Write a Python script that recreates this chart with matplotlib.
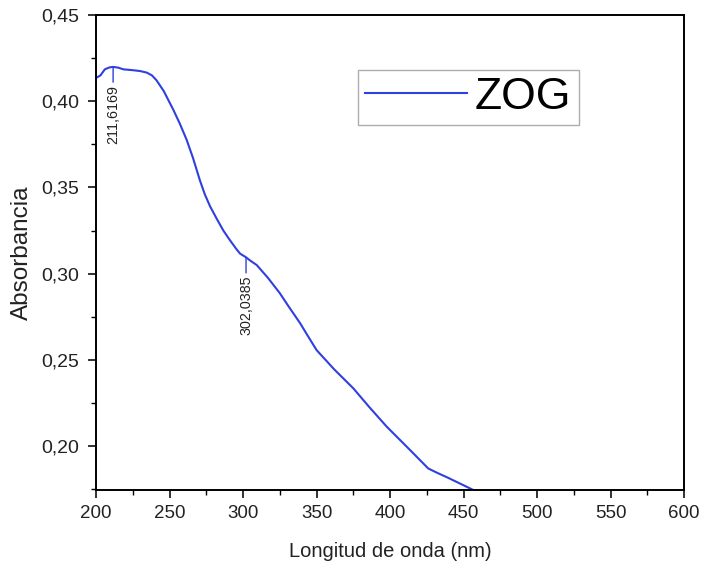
import matplotlib
matplotlib.use("Agg")
import matplotlib.pyplot as plt
from matplotlib.ticker import MultipleLocator, FuncFormatter

plt.rcParams['font.family'] = ['Liberation Sans', 'DejaVu Sans']

# UV-Vis spectrum of ZOG
wavelength = [200.0, 203.0, 206.0, 209.0, 211.6, 215.0, 218.6, 225.0, 230.0, 234.5,
              238.0, 241.0, 246.0, 252.6, 257.0, 261.7, 266.0, 270.7, 274.0, 277.6,
              282.0, 286.6, 291.0, 295.7, 298.0, 302.0, 305.0, 309.3, 317.0, 325.0,
              331.0, 338.8, 344.0, 350.0, 362.0, 375.0, 386.0, 397.8, 411.4, 426.0,
              432.0, 438.5, 447.0, 456.7]
absorbance = [0.4135, 0.4150, 0.4185, 0.4196, 0.4199, 0.4195, 0.4185, 0.4180, 0.4175, 0.4166,
              0.4150, 0.4123, 0.4060, 0.3950, 0.3870, 0.3775, 0.3670, 0.3540, 0.3460, 0.3390,
              0.3320, 0.3250, 0.3195, 0.3140, 0.3116, 0.3095, 0.3075, 0.3050, 0.2975, 0.2887,
              0.2810, 0.2713, 0.2640, 0.2557, 0.2445, 0.2335, 0.2225, 0.2112, 0.1996, 0.1870,
              0.1845, 0.1820, 0.1785, 0.1745]

# labelled peaks: (wavelength, absorbance, label)
peaks = [(211.6169, 0.4199, "211,6169"),
         (302.0385, 0.3093, "302,0385")]

line_color = '#2f3fe0'

fig = plt.figure(figsize=(7.02, 5.69), dpi=100)
ax = fig.add_axes([0.1368, 0.1388, 0.8376, 0.8348])

ax.plot(wavelength, absorbance, color=line_color, lw=1.5, label='ZOG')

for x, y, txt in peaks:
    ax.annotate(txt, xy=(x, y), xytext=(0, -13), textcoords='offset points',
                rotation=90, ha='center', va='top', fontsize=10.3, color='#222222',
                arrowprops=dict(arrowstyle='-', color=line_color, lw=1.0,
                                shrinkA=0, shrinkB=0))

ax.set_xlim(200, 600)
ax.set_ylim(0.1745, 0.45)
ax.xaxis.set_major_locator(MultipleLocator(50))
ax.xaxis.set_minor_locator(MultipleLocator(25))
ax.yaxis.set_major_locator(MultipleLocator(0.05))
ax.yaxis.set_minor_locator(MultipleLocator(0.025))
ax.yaxis.set_major_formatter(FuncFormatter(lambda v, p: f"{v:.2f}".replace('.', ',')))

ax.tick_params(which='major', direction='out', length=6, width=1.3,
               colors='#222222', top=False, right=False)
ax.tick_params(axis='x', labelsize=13.5, pad=5)
ax.tick_params(axis='y', labelsize=14, pad=6)
ax.tick_params(which='minor', direction='out', length=3.5, width=1.0,
               top=False, right=False)
for s in ax.spines.values():
    s.set_linewidth(1.4)

ax.set_xlabel('Longitud de onda (nm)', fontsize=14.5, color='#222222', labelpad=14)
ax.set_ylabel('Absorbancia', fontsize=17.5, color='#222222', labelpad=6)

leg = ax.legend(loc='upper left', bbox_to_anchor=(0.445, 0.885), fontsize=32,
                frameon=True, fancybox=False, handlelength=2.3, handletextpad=0.18,
                borderpad=0.16, borderaxespad=0)
leg.get_frame().set_edgecolor('#999999')
leg.get_frame().set_linewidth(1.0)

fig.savefig('out.png', dpi=100)
